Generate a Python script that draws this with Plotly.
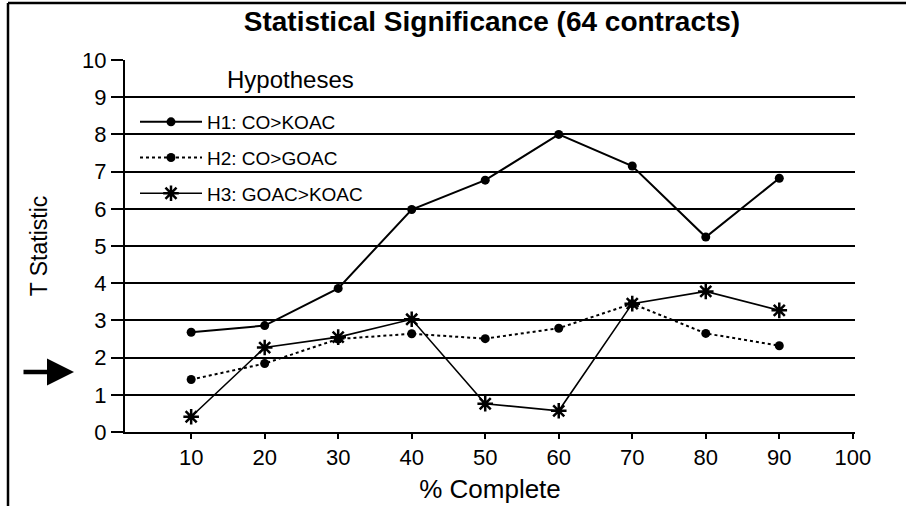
import plotly.graph_objects as go

pct_complete = [10, 20, 30, 40, 50, 60, 70, 80, 90]
h1_values = [2.68, 2.86, 3.86, 5.98, 6.77, 8.0, 7.15, 5.24, 6.82]
h2_values = [1.41, 1.84, 2.50, 2.64, 2.51, 2.79, 3.45, 2.65, 2.32]
h3_values = [0.41, 2.27, 2.55, 3.03, 0.76, 0.57, 3.45, 3.78, 3.27]
x_ticks = [10, 20, 30, 40, 50, 60, 70, 80, 90, 100]
y_ticks = list(range(0, 11))

FONT = "Liberation Sans, Arial, Helvetica, sans-serif"

fig = go.Figure()
fig.add_trace(go.Scatter(
    x=pct_complete, y=h1_values, name="H1: CO>KOAC", legendgroup="g1",
    mode="lines+markers", line=dict(color="black", width=2),
    marker=dict(symbol="circle", size=9, color="black")))
fig.add_trace(go.Scatter(
    x=pct_complete, y=h2_values, name="H2: CO>GOAC", legendgroup="g2",
    mode="lines+markers", line=dict(color="black", width=2, dash="dot"),
    marker=dict(symbol="circle", size=9, color="black")))
fig.add_trace(go.Scatter(
    x=pct_complete, y=h3_values, name="H3: GOAC>KOAC", legendgroup="g3",
    mode="lines+markers", line=dict(color="black", width=1.6),
    marker=dict(symbol="asterisk-open", size=13, color="black",
                line=dict(color="black", width=2.5))))

L, R, T, B = 125, 51, 60, 74
pw = 906 - L - R
ph = 506 - T - B

def px_x(p):
    return (p - L) / pw

def px_y(p):
    return (506 - B - p) / ph

fig.update_layout(
    width=906, height=506,
    margin=dict(l=L, r=R, t=T, b=B, autoexpand=False),
    paper_bgcolor="white", plot_bgcolor="white",
    font=dict(family=FONT, color="black"),
    title=dict(text="<b>Statistical Significance (64 contracts)</b>",
               x=px_x(492), xref="paper", xanchor="center",
               y=1 - 21 / 506, yanchor="middle",
               font=dict(size=28, family=FONT, color="black")),
    showlegend=True,
    legend=dict(
        x=px_x(135), y=px_y(103), xanchor="left", yanchor="top",
        bgcolor="rgba(0,0,0,0)", borderwidth=0,
        traceorder="grouped", tracegroupgap=8,
        font=dict(size=19, family=FONT, color="black"),
        itemwidth=62,
    ),
    xaxis=dict(
        range=[1.0, 100.3], tickvals=x_ticks, ticktext=[str(v) for v in x_ticks],
        showgrid=False, zeroline=False, automargin=False,
        showline=True, linecolor="black", linewidth=2,
        ticks="outside", ticklen=5, tickwidth=1.5, tickcolor="black",
        tickfont=dict(size=22, family=FONT, color="black"),
        title=dict(text="% Complete", font=dict(size=26, family=FONT, color="black"),
                   standoff=10),
    ),
    yaxis=dict(
        range=[0, 10], tickvals=y_ticks,
        showgrid=True, gridcolor="black", gridwidth=1.8, zeroline=False,
        automargin=False,
        showline=True, linecolor="black", linewidth=2,
        ticks="outside", ticklen=12, tickwidth=1.8, tickcolor="black",
        tickfont=dict(size=22, family=FONT, color="black"),
        title=dict(text="T Statistic", font=dict(size=23, family=FONT, color="black"),
                   standoff=28),
    ),
    shapes=[
        dict(type="line", xref="paper", yref="paper",
             x0=px_x(8), x1=px_x(8), y0=px_y(506), y1=px_y(3),
             line=dict(color="black", width=2.5)),
        dict(type="line", xref="paper", yref="paper",
             x0=px_x(8), x1=px_x(906), y0=px_y(3), y1=px_y(3),
             line=dict(color="black", width=2.5)),
    ],
    annotations=[
        dict(xref="paper", yref="paper", x=px_x(74), y=px_y(372),
             ax=-52, ay=0, showarrow=True, arrowhead=2, arrowsize=1.2,
             arrowwidth=4.5, arrowcolor="black", text=""),
        dict(xref="paper", yref="paper", x=px_x(290), y=px_y(80),
             xanchor="center", yanchor="middle", showarrow=False,
             text="Hypotheses", font=dict(size=24, family=FONT, color="black")),
    ],
)

fig.write_html("out.html", config={"displayModeBar": False},
               post_script="document.body.style.margin='0';")
